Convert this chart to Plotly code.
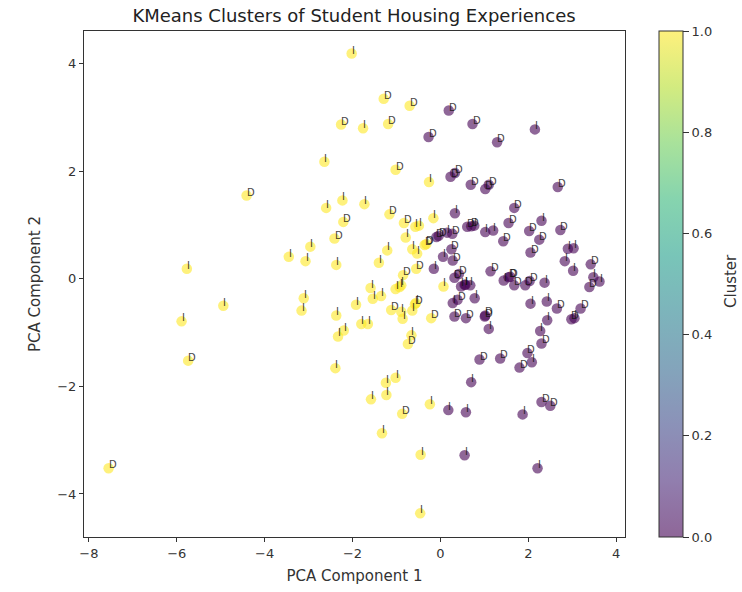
import plotly.graph_objects as go

# cluster 1 (yellow)
y_pc1 = [-2.02,-2.26,-2.64,-4.41,-2.60,-2.23,-2.21,-2.41,-2.96,-3.45,-3.07,-2.37,-5.77,
         -1.29,-0.70,-1.76,-1.19,-1.02,-0.26,-1.73,-1.16,-0.83,-0.57,-0.49,-0.16,
         -0.32,-0.36,-0.79,-0.64,-0.53,-1.21,-1.40,-0.85,-0.55,
         -1.59,-1.54,-1.35,-1.92,-1.02,-0.89,-0.93,0.07,-1.12,-0.89,-0.86,-0.58,-0.56,-0.64,-0.21,
         -1.80,-1.65,-0.66,-0.74,-1.02,-1.24,-1.23,-1.58,-0.24,-0.87,-1.33,-0.45,-0.46,
         -4.94,-3.11,-3.16,-5.89,-5.74,-7.55,-2.37,-2.20,-2.33,-2.39]
y_pc2 = [4.19,2.87,2.18,1.55,1.32,1.46,1.06,0.75,0.60,0.41,0.33,0.26,0.19,
         3.35,3.22,2.80,2.88,2.03,1.80,1.39,1.20,1.04,0.97,0.99,1.13,
         0.65,0.63,0.77,0.55,0.47,0.53,0.30,0.07,0.19,
         -0.17,-0.37,-0.32,-0.48,-0.19,-0.12,-0.15,-0.14,-0.58,-0.61,-0.74,-0.47,-0.45,-0.59,-0.73,
         -0.84,-0.84,-1.05,-1.21,-1.84,-1.93,-2.16,-2.24,-2.33,-2.51,-2.87,-3.27,-4.36,
         -0.50,-0.36,-0.59,-0.79,-1.52,-3.52,-0.68,-0.96,-1.07,-1.66]
y_lab = ["I","D","I","D","I","I","D","D","I","I","I","I","I",
         "D","D","I","D","D","I","I","D","D","I","I","I",
         "D","D","I","I","I","I","I","D","D",
         "I","I","I","I","I","I","I","I","D","I","I","D","I","I","D",
         "I","I","I","D","I","I","I","I","I","D","I","I","I",
         "I","I","I","I","D","D","I","I","I","I"]

# cluster 0 (purple)
p_pc1 = [0.19,0.73,1.29,2.15,-0.27,0.23,0.33,0.69,1.02,1.10,2.67,0.33,1.68,1.55,2.30,2.02,2.73,
         0.61,0.70,0.77,-0.09,-0.04,0.15,0.27,1.02,1.20,1.43,2.25,2.05,2.90,3.03,2.83,3.42,3.02,
         0.25,0.06,0.28,-0.15,1.14,0.42,0.32,0.57,0.47,0.68,0.55,0.78,0.39,0.28,0.32,0.58,1.02,1.01,1.10,
         2.05,2.42,2.65,2.43,2.27,2.30,3.19,3.05,2.98,0.89,1.36,1.98,2.08,1.80,0.70,0.18,0.58,1.87,2.30,2.50,
         0.55,2.21,1.44,1.55,1.59,1.68,1.93,2.03,2.37,3.48,3.39,3.62]
p_pc2 = [3.13,2.88,2.54,2.78,2.64,1.90,1.97,1.75,1.67,1.75,1.71,1.22,1.32,1.04,1.08,0.89,0.91,
         0.97,0.98,0.99,0.78,0.80,0.86,0.84,0.87,0.90,0.70,0.73,0.49,0.56,0.57,0.33,0.27,0.15,
         0.55,0.41,0.34,0.19,0.14,0.09,0.02,-0.11,-0.14,-0.12,-0.11,-0.36,-0.39,-0.45,-0.70,-0.73,-0.68,-0.70,-0.93,
         -0.46,-0.42,-0.55,-0.77,-0.97,-1.20,-0.55,-0.73,-0.75,-1.50,-1.48,-1.38,-1.55,-1.65,-1.92,-2.44,-2.48,-2.52,-2.29,-2.36,
         -3.28,-3.52,-0.03,0.03,0.04,-0.12,-0.12,-0.04,-0.07,0.03,-0.15,-0.05]
p_lab = ["D","D","D","I","D","D","D","D","D","D","D","I","D","D","I","D","D",
         "D","D","I","D","D","I","D","I","I","D","D","D","I","I","I","D","I",
         "D","I","D","I","D","D","D","I","I","I","I","I","D","I","D","D","D","D","I",
         "I","I","D","I","I","D","D","I","D","D","D","D","I","D","I","I","I","I","D","D",
         "I","I","I","D","D","D","D","D","I","I","D","I"]

ticks_x = [-8,-6,-4,-2,0,2,4]
ticks_y = [-4,-2,0,2,4]
ticks_c = [0.0,0.2,0.4,0.6,0.8,1.0]
viridis = ["#440154","#482878","#3e4989","#31688e","#26828e","#1f9e89","#35b779","#6ece58","#b5de2b","#fde725"]

def rgba(h, a=0.6):
    return f"rgba({int(h[1:3],16)},{int(h[3:5],16)},{int(h[5:7],16)},{a})"

scale = [[i/(len(viridis)-1), rgba(c)] for i, c in enumerate(viridis)]
INK = "#333333"
FONT = "DejaVu Sans"

pc1 = p_pc1 + y_pc1
pc2 = p_pc2 + y_pc2
labels = p_lab + y_lab
cluster = [0]*len(p_pc1) + [1]*len(y_pc1)

fig = go.Figure()
fig.add_trace(go.Scatter(
    x=pc1, y=pc2, mode="markers", hoverinfo="skip",
    marker=dict(size=10.5, color=cluster, colorscale=scale, cmin=0, cmax=1, line=dict(width=0),
                showscale=True,
                colorbar=dict(x=1.063, xanchor="left", y=0, yanchor="bottom", len=1, lenmode="fraction",
                              xpad=0, ypad=0,
                              thickness=24, thicknessmode="pixels", outlinewidth=1, outlinecolor="#333333",
                              tickmode="array", tickvals=ticks_c, ticktext=[f"{v:.1f}" for v in ticks_c],
                              ticks="outside", ticklen=6, tickcolor="#333333",
                              tickfont=dict(size=13, color=INK, family=FONT))),
))
annotations = [
    dict(x=a, y=b, xref="x", yref="y", text=t, showarrow=False, xanchor="left", yanchor="bottom",
         xshift=0, yshift=-2, borderpad=0, borderwidth=0, opacity=0.8,
         font=dict(size=10, color="#111111", family=FONT))
    for a, b, t in zip(pc1, pc2, labels)
]
annotations.append(dict(x=1.196, y=0.506, xref="paper", yref="paper", text="Cluster", showarrow=False,
                        textangle=-90, xanchor="center", yanchor="middle",
                        font=dict(size=15, color=INK, family=FONT)))
axis = dict(showgrid=False, zeroline=False, showline=True, mirror=True, linecolor="#333333", linewidth=1,
            ticks="outside", ticklen=4, tickcolor="#333333",
            tickfont=dict(size=13, color=INK, family=FONT))
fig.update_layout(
    width=742, height=592, autosize=False, showlegend=False,
    paper_bgcolor="white", plot_bgcolor="white",
    margin=dict(l=84, r=117, t=31, b=55),
    font=dict(family=FONT),
    annotations=annotations,
    title=dict(text="KMeans Clusters of Student Housing Experiences", x=354/742, xanchor="center",
               y=0.973, yanchor="middle", font=dict(size=18, color="#222222", family=FONT)),
    xaxis=dict(axis, range=[-8.11, 4.2], tickvals=ticks_x,
               title=dict(text="PCA Component 1", standoff=10, font=dict(size=15, color=INK, family=FONT))),
    yaxis=dict(axis, range=[-4.8, 4.61], tickvals=ticks_y,
               title=dict(text="PCA Component 2", standoff=12, font=dict(size=15, color=INK, family=FONT))),
)
fig.write_html("out.html", post_script="document.body.style.margin='0';", config=dict(displayModeBar=False))
